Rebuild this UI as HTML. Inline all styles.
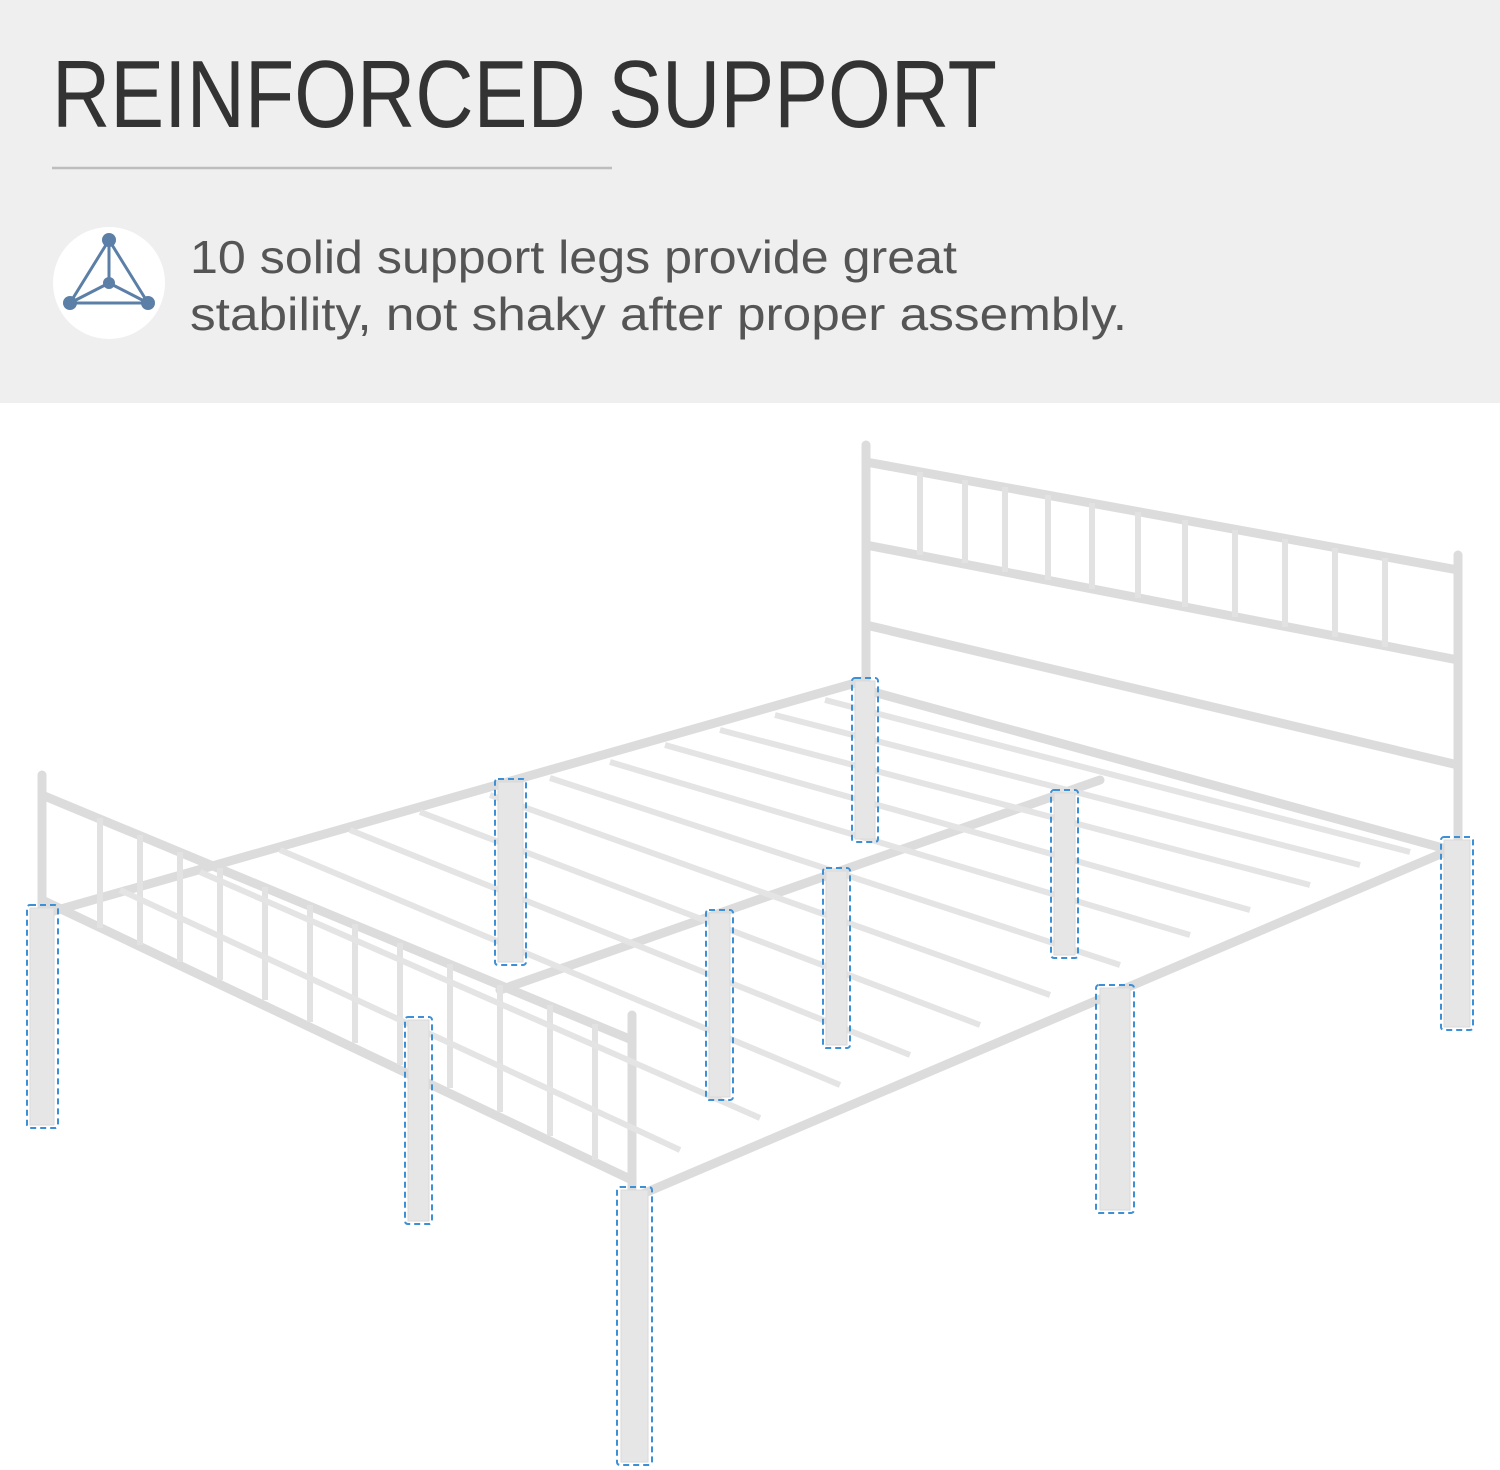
<!DOCTYPE html>
<html><head><meta charset="utf-8"><style>
html,body{margin:0;padding:0;background:#fff;}
</style></head><body>
<svg width="1500" height="1470" viewBox="0 0 1500 1470" xmlns="http://www.w3.org/2000/svg" style="display:block">
<rect x="0" y="0" width="1500" height="403" fill="#efefef"/>
<text x="52" y="127" font-family="Liberation Sans, sans-serif" font-size="96" fill="#333" textLength="945" lengthAdjust="spacingAndGlyphs">REINFORCED SUPPORT</text>
<line x1="52" y1="168" x2="612" y2="168" stroke="#bdbdbd" stroke-width="2.5"/>
<circle cx="109" cy="283" r="56" fill="#fff"/>
<g stroke="#5b7fa6" stroke-width="3" fill="none">
<polygon points="109,240 70,303 148,303"/>
<line x1="109" y1="240" x2="109" y2="283"/><line x1="70" y1="303" x2="109" y2="283"/><line x1="148" y1="303" x2="109" y2="283"/>
</g>
<g fill="#5b7fa6"><circle cx="109" cy="240" r="7"/><circle cx="70" cy="303" r="7"/><circle cx="148" cy="303" r="7"/><circle cx="109" cy="283" r="6"/></g>
<g font-family="Liberation Sans, sans-serif" font-size="46" fill="#555">
<text x="190" y="273" textLength="767" lengthAdjust="spacingAndGlyphs">10 solid support legs provide great</text>
<text x="190" y="330" textLength="937" lengthAdjust="spacingAndGlyphs">stability, not shaky after proper assembly.</text>
</g>
<!-- bed frame -->
<g stroke="#dcdcdc" stroke-width="9" stroke-linecap="round" fill="none">
<!-- headboard -->
<line x1="866" y1="445" x2="866" y2="690"/>
<line x1="1458" y1="555" x2="1458" y2="840"/>
<line x1="866" y1="462" x2="1458" y2="570"/>
<line x1="866" y1="545" x2="1458" y2="660"/>
<line x1="866" y1="625" x2="1458" y2="765"/>
<!-- side rails -->
<line x1="40" y1="915" x2="866" y2="680"/>
<line x1="640" y1="1195" x2="1450" y2="850"/>
<line x1="866" y1="690" x2="1450" y2="850"/>
<!-- footboard -->
<line x1="42" y1="775" x2="42" y2="915"/>
<line x1="632" y1="1015" x2="632" y2="1190"/>
<line x1="42" y1="795" x2="632" y2="1040"/>
<line x1="42" y1="900" x2="632" y2="1180"/>
<!-- center rail -->
<line x1="500" y1="990" x2="1100" y2="780"/>
</g>
<g stroke="#e2e2e2" stroke-width="6" fill="none">
<line x1="100" y1="818" x2="100" y2="928"/><line x1="140" y1="835" x2="140" y2="945"/><line x1="180" y1="852" x2="180" y2="962"/><line x1="220" y1="868" x2="220" y2="980"/><line x1="265" y1="887" x2="265" y2="1000"/><line x1="310" y1="905" x2="310" y2="1022"/><line x1="355" y1="924" x2="355" y2="1043"/><line x1="400" y1="943" x2="400" y2="1065"/><line x1="450" y1="964" x2="450" y2="1088"/><line x1="500" y1="985" x2="500" y2="1112"/><line x1="550" y1="1005" x2="550" y2="1136"/><line x1="595" y1="1024" x2="595" y2="1160"/>
<line x1="920" y1="472" x2="920" y2="555"/><line x1="965" y1="480" x2="965" y2="563"/><line x1="1005" y1="487" x2="1005" y2="572"/><line x1="1048" y1="495" x2="1048" y2="580"/><line x1="1092" y1="503" x2="1092" y2="589"/><line x1="1138" y1="512" x2="1138" y2="598"/><line x1="1185" y1="520" x2="1185" y2="607"/><line x1="1235" y1="530" x2="1235" y2="617"/><line x1="1285" y1="539" x2="1285" y2="627"/><line x1="1335" y1="548" x2="1335" y2="637"/><line x1="1385" y1="558" x2="1385" y2="647"/>
</g>
<g stroke="#e4e4e4" stroke-width="6" fill="none">
<line x1="120" y1="890" x2="680" y2="1150"/>
<line x1="200" y1="872" x2="760" y2="1118"/>
<line x1="280" y1="850" x2="840" y2="1085"/>
<line x1="350" y1="830" x2="910" y2="1055"/>
<line x1="420" y1="812" x2="980" y2="1025"/>
<line x1="490" y1="795" x2="1050" y2="995"/>
<line x1="550" y1="778" x2="1120" y2="965"/>
<line x1="610" y1="762" x2="1190" y2="935"/>
<line x1="665" y1="745" x2="1250" y2="910"/>
<line x1="720" y1="730" x2="1310" y2="885"/>
<line x1="775" y1="715" x2="1360" y2="865"/>
<line x1="825" y1="700" x2="1410" y2="852"/>
</g>
<!-- legs -->
<g fill="#e6e6e6" stroke="#dadada" stroke-width="1">
<rect x="30" y="908" width="24" height="217"/>
<rect x="408" y="1020" width="21" height="201"/>
<rect x="621" y="1190" width="27" height="272"/>
<rect x="498" y="782" width="25" height="180"/>
<rect x="709" y="913" width="21" height="184"/>
<rect x="826" y="871" width="21" height="174"/>
<rect x="855" y="681" width="20" height="158"/>
<rect x="1054" y="793" width="21" height="162"/>
<rect x="1100" y="988" width="30" height="222"/>
<rect x="1444" y="840" width="26" height="187"/>
</g>
<g fill="none" stroke="#3d8fd6" stroke-width="2" stroke-dasharray="6,4">
<rect x="27" y="905" width="31" height="223" rx="3"/>
<rect x="405" y="1017" width="27" height="207" rx="3"/>
<rect x="617" y="1187" width="35" height="278" rx="3"/>
<rect x="495" y="779" width="31" height="186" rx="3"/>
<rect x="706" y="910" width="27" height="190" rx="3"/>
<rect x="823" y="868" width="27" height="180" rx="3"/>
<rect x="852" y="678" width="26" height="164" rx="3"/>
<rect x="1051" y="790" width="27" height="168" rx="3"/>
<rect x="1096" y="985" width="38" height="228" rx="3"/>
<rect x="1441" y="837" width="32" height="193" rx="3"/>
</g>
</svg>
</body></html>
